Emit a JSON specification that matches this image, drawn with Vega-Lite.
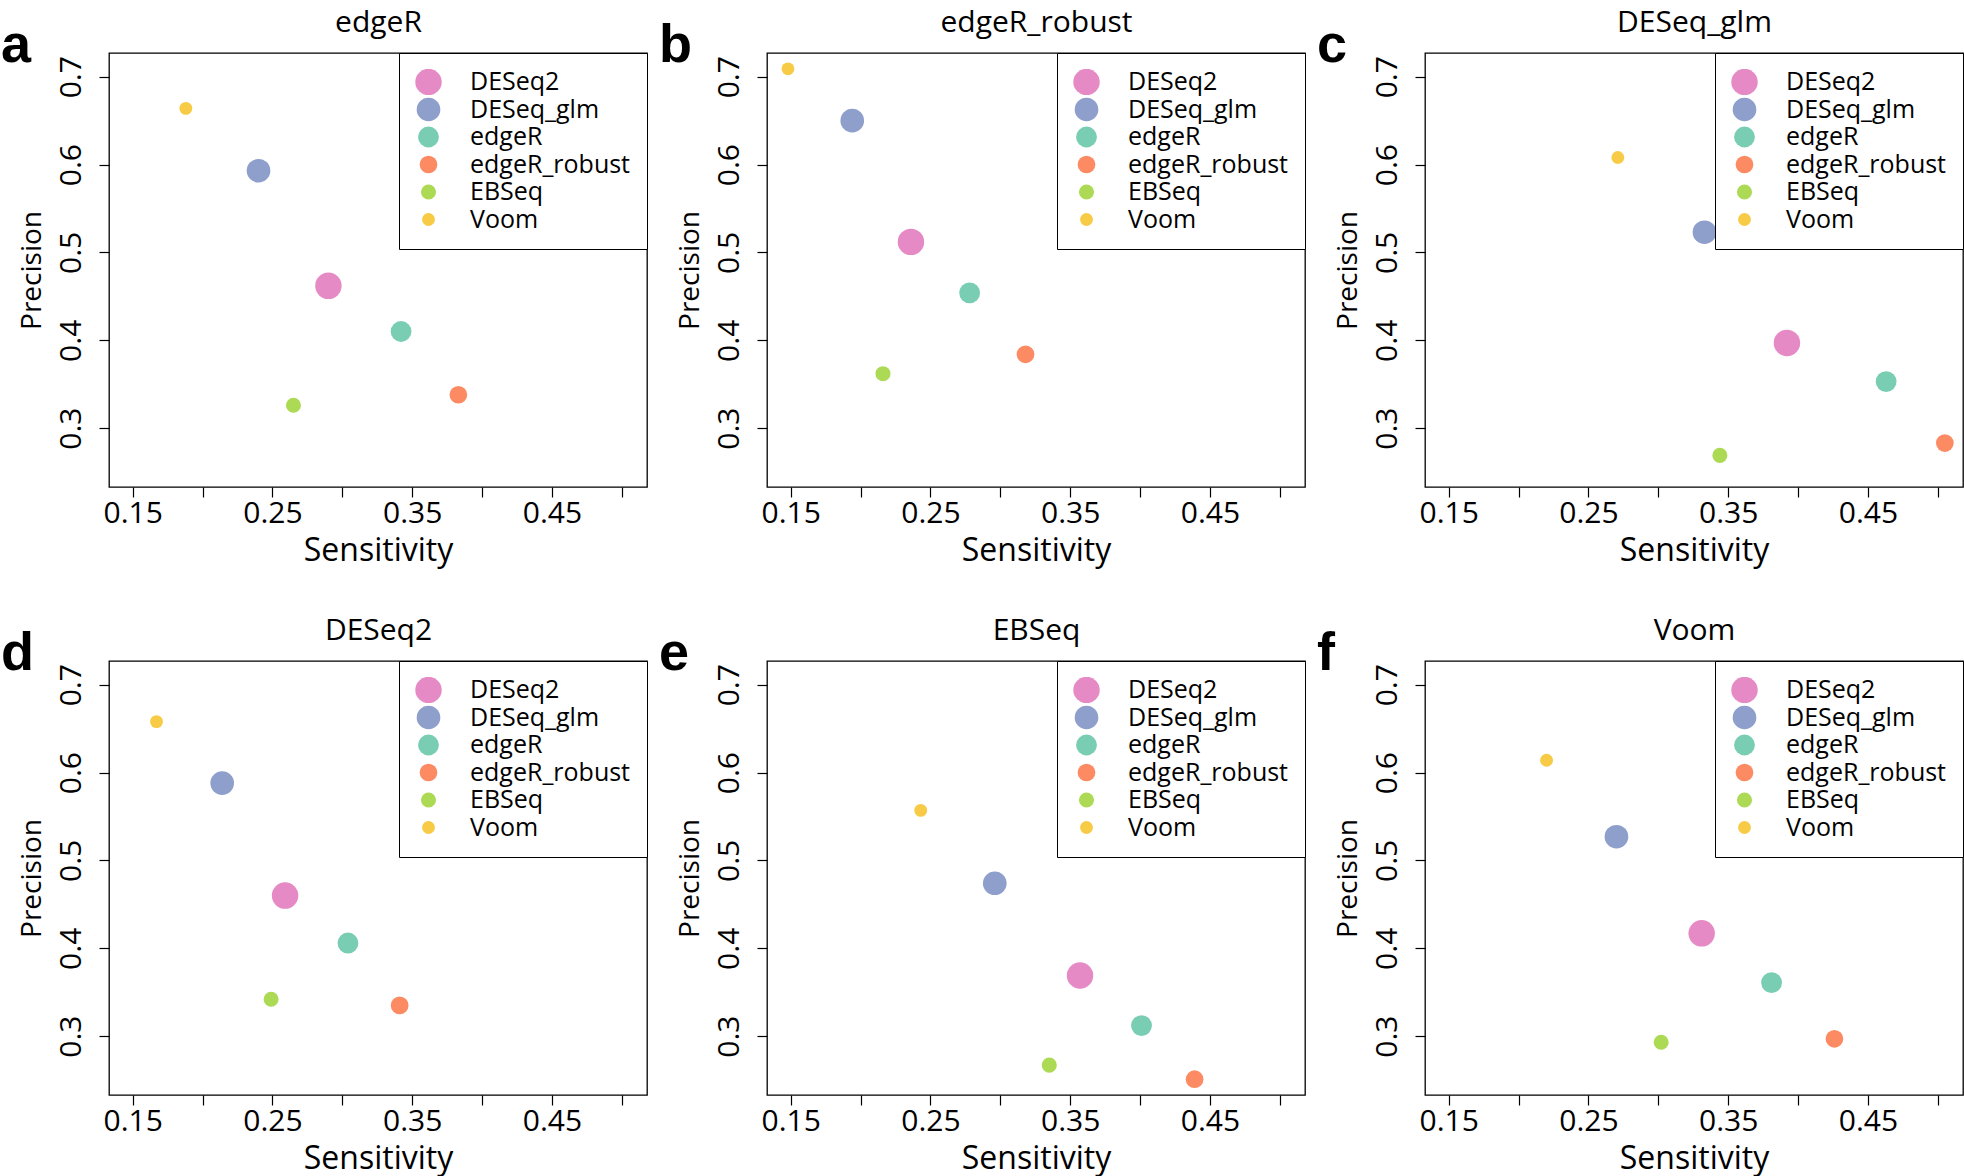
{
  "$schema": "https://vega.github.io/schema/vega-lite/v6.json",
  "background": "white",
  "padding": {"left": 0, "top": 6, "right": 0, "bottom": 2},
  "config": {
    "font": "Open Sans",
    "view": {"stroke": "black", "strokeWidth": 1.3},
    "axis": {"grid": false, "domain": false, "tickColor": "black", "tickSize": 10, "tickWidth": 1.2, "labelColor": "black", "titleColor": "black", "labelFont": "Open Sans", "titleFont": "Open Sans", "labelFontSize": 30, "titleFontSize": 30, "titleFontWeight": "normal", "labelFlush": false, "labelOverlap": false},
    "axisBottom": {"labelPadding": 1, "titlePadding": 7, "titleFontSize": 32},
    "axisLeft": {"labelPadding": 13, "titlePadding": 10, "titleFontSize": 28},
    "axisTop": {"domain": false, "ticks": false, "labels": false, "titlePadding": 16, "titleFontSize": 30},
    "legend": {"orient": "top-right", "offset": 0, "padding": 16, "strokeColor": "black", "fillColor": "white", "labelFontSize": 25, "labelFont": "Open Sans", "labelColor": "black", "labelOffset": 28, "labelLimit": 400, "symbolType": "circle", "symbolStrokeWidth": 0, "rowPadding": 1.5, "clipHeight": 26},
    "title": {"anchor": "start", "frame": "group", "font": "Liberation Sans", "fontSize": 54, "fontWeight": "bold", "color": "black", "dx": -108, "dy": 70, "baseline": "alphabetic", "offset": 0, "align": "left"}
  },
  "datasets": {
    "a": [
      {"method": "DESeq2", "sensitivity": 0.290, "precision": 0.462},
      {"method": "DESeq_glm", "sensitivity": 0.240, "precision": 0.593},
      {"method": "edgeR", "sensitivity": 0.342, "precision": 0.410},
      {"method": "edgeR_robust", "sensitivity": 0.383, "precision": 0.338},
      {"method": "EBSeq", "sensitivity": 0.265, "precision": 0.326},
      {"method": "Voom", "sensitivity": 0.188, "precision": 0.664}
    ],
    "b": [
      {"method": "DESeq2", "sensitivity": 0.236, "precision": 0.512},
      {"method": "DESeq_glm", "sensitivity": 0.194, "precision": 0.650},
      {"method": "edgeR", "sensitivity": 0.278, "precision": 0.454},
      {"method": "edgeR_robust", "sensitivity": 0.318, "precision": 0.384},
      {"method": "EBSeq", "sensitivity": 0.216, "precision": 0.362},
      {"method": "Voom", "sensitivity": 0.148, "precision": 0.709}
    ],
    "c": [
      {"method": "DESeq2", "sensitivity": 0.392, "precision": 0.397},
      {"method": "DESeq_glm", "sensitivity": 0.333, "precision": 0.523},
      {"method": "edgeR", "sensitivity": 0.463, "precision": 0.353},
      {"method": "edgeR_robust", "sensitivity": 0.505, "precision": 0.283},
      {"method": "EBSeq", "sensitivity": 0.344, "precision": 0.269},
      {"method": "Voom", "sensitivity": 0.271, "precision": 0.608}
    ],
    "d": [
      {"method": "DESeq2", "sensitivity": 0.259, "precision": 0.460},
      {"method": "DESeq_glm", "sensitivity": 0.214, "precision": 0.588},
      {"method": "edgeR", "sensitivity": 0.304, "precision": 0.406},
      {"method": "edgeR_robust", "sensitivity": 0.341, "precision": 0.335},
      {"method": "EBSeq", "sensitivity": 0.249, "precision": 0.342},
      {"method": "Voom", "sensitivity": 0.167, "precision": 0.658}
    ],
    "e": [
      {"method": "DESeq2", "sensitivity": 0.357, "precision": 0.369},
      {"method": "DESeq_glm", "sensitivity": 0.296, "precision": 0.474},
      {"method": "edgeR", "sensitivity": 0.401, "precision": 0.312},
      {"method": "edgeR_robust", "sensitivity": 0.439, "precision": 0.251},
      {"method": "EBSeq", "sensitivity": 0.335, "precision": 0.267},
      {"method": "Voom", "sensitivity": 0.243, "precision": 0.557}
    ],
    "f": [
      {"method": "DESeq2", "sensitivity": 0.331, "precision": 0.417},
      {"method": "DESeq_glm", "sensitivity": 0.270, "precision": 0.527},
      {"method": "edgeR", "sensitivity": 0.381, "precision": 0.361},
      {"method": "edgeR_robust", "sensitivity": 0.426, "precision": 0.297},
      {"method": "EBSeq", "sensitivity": 0.302, "precision": 0.293},
      {"method": "Voom", "sensitivity": 0.220, "precision": 0.614}
    ]
  },
  "columns": 3,
  "bounds": "flush",
  "spacing": {"row": 174, "column": 120},
  "resolve": {"legend": {"color": "independent", "size": "independent"}},
  "concat": [
    {
      "title": {"text": "a"},
      "data": {"name": "a"},
      "width": 538, "height": 434,
      "resolve": {"axis": {"x": "independent"}},
      "layer": [
        {"mark": {"type": "circle", "opacity": 1},
         "encoding": {
           "x": {"field": "sensitivity", "type": "quantitative", "scale": {"domain": [0.133, 0.518], "nice": false, "zero": false}, "axis": {"title": "Sensitivity", "values": [0.15, 0.2, 0.25, 0.3, 0.35, 0.4, 0.45, 0.5], "labelExpr": "round(datum.value * 100) % 10 == 5 ? format(datum.value, '.2f') : ''"}},
           "y": {"field": "precision", "type": "quantitative", "scale": {"domain": [0.233, 0.727], "nice": false, "zero": false}, "axis": {"title": "Precision", "values": [0.3, 0.4, 0.5, 0.6, 0.7], "format": ".1f", "labelAngle": -90}},
           "color": {"field": "method", "type": "ordinal", "scale": {"domain": ["DESeq2", "DESeq_glm", "edgeR", "edgeR_robust", "EBSeq", "Voom"], "range": ["#E68AC6", "#8E9FCC", "#78CDB3", "#FC8B63", "#ADDA55", "#F7CB45"]}, "legend": {"title": null}},
           "size": {"field": "method", "type": "ordinal", "scale": {"type": "ordinal", "domain": ["DESeq2", "DESeq_glm", "edgeR", "edgeR_robust", "EBSeq", "Voom"], "range": [700, 560, 434, 314, 227, 165]}, "legend": {"title": null}}
         }},
        {"mark": {"type": "circle", "opacity": 0},
         "encoding": {"x": {"field": "sensitivity", "type": "quantitative", "axis": {"orient": "top", "title": "edgeR"}}}}
      ]
    },
    {
      "title": {"text": "b"},
      "data": {"name": "b"},
      "width": 538, "height": 434,
      "resolve": {"axis": {"x": "independent"}},
      "layer": [
        {"mark": {"type": "circle", "opacity": 1},
         "encoding": {
           "x": {"field": "sensitivity", "type": "quantitative", "scale": {"domain": [0.133, 0.518], "nice": false, "zero": false}, "axis": {"title": "Sensitivity", "values": [0.15, 0.2, 0.25, 0.3, 0.35, 0.4, 0.45, 0.5], "labelExpr": "round(datum.value * 100) % 10 == 5 ? format(datum.value, '.2f') : ''"}},
           "y": {"field": "precision", "type": "quantitative", "scale": {"domain": [0.233, 0.727], "nice": false, "zero": false}, "axis": {"title": "Precision", "values": [0.3, 0.4, 0.5, 0.6, 0.7], "format": ".1f", "labelAngle": -90}},
           "color": {"field": "method", "type": "ordinal", "scale": {"domain": ["DESeq2", "DESeq_glm", "edgeR", "edgeR_robust", "EBSeq", "Voom"], "range": ["#E68AC6", "#8E9FCC", "#78CDB3", "#FC8B63", "#ADDA55", "#F7CB45"]}, "legend": {"title": null}},
           "size": {"field": "method", "type": "ordinal", "scale": {"type": "ordinal", "domain": ["DESeq2", "DESeq_glm", "edgeR", "edgeR_robust", "EBSeq", "Voom"], "range": [700, 560, 434, 314, 227, 165]}, "legend": {"title": null}}
         }},
        {"mark": {"type": "circle", "opacity": 0},
         "encoding": {"x": {"field": "sensitivity", "type": "quantitative", "axis": {"orient": "top", "title": "edgeR_robust"}}}}
      ]
    },
    {
      "title": {"text": "c"},
      "data": {"name": "c"},
      "width": 538, "height": 434,
      "resolve": {"axis": {"x": "independent"}},
      "layer": [
        {"mark": {"type": "circle", "opacity": 1},
         "encoding": {
           "x": {"field": "sensitivity", "type": "quantitative", "scale": {"domain": [0.133, 0.518], "nice": false, "zero": false}, "axis": {"title": "Sensitivity", "values": [0.15, 0.2, 0.25, 0.3, 0.35, 0.4, 0.45, 0.5], "labelExpr": "round(datum.value * 100) % 10 == 5 ? format(datum.value, '.2f') : ''"}},
           "y": {"field": "precision", "type": "quantitative", "scale": {"domain": [0.233, 0.727], "nice": false, "zero": false}, "axis": {"title": "Precision", "values": [0.3, 0.4, 0.5, 0.6, 0.7], "format": ".1f", "labelAngle": -90}},
           "color": {"field": "method", "type": "ordinal", "scale": {"domain": ["DESeq2", "DESeq_glm", "edgeR", "edgeR_robust", "EBSeq", "Voom"], "range": ["#E68AC6", "#8E9FCC", "#78CDB3", "#FC8B63", "#ADDA55", "#F7CB45"]}, "legend": {"title": null}},
           "size": {"field": "method", "type": "ordinal", "scale": {"type": "ordinal", "domain": ["DESeq2", "DESeq_glm", "edgeR", "edgeR_robust", "EBSeq", "Voom"], "range": [700, 560, 434, 314, 227, 165]}, "legend": {"title": null}}
         }},
        {"mark": {"type": "circle", "opacity": 0},
         "encoding": {"x": {"field": "sensitivity", "type": "quantitative", "axis": {"orient": "top", "title": "DESeq_glm"}}}}
      ]
    },
    {
      "title": {"text": "d"},
      "data": {"name": "d"},
      "width": 538, "height": 434,
      "resolve": {"axis": {"x": "independent"}},
      "layer": [
        {"mark": {"type": "circle", "opacity": 1},
         "encoding": {
           "x": {"field": "sensitivity", "type": "quantitative", "scale": {"domain": [0.133, 0.518], "nice": false, "zero": false}, "axis": {"title": "Sensitivity", "values": [0.15, 0.2, 0.25, 0.3, 0.35, 0.4, 0.45, 0.5], "labelExpr": "round(datum.value * 100) % 10 == 5 ? format(datum.value, '.2f') : ''"}},
           "y": {"field": "precision", "type": "quantitative", "scale": {"domain": [0.233, 0.727], "nice": false, "zero": false}, "axis": {"title": "Precision", "values": [0.3, 0.4, 0.5, 0.6, 0.7], "format": ".1f", "labelAngle": -90}},
           "color": {"field": "method", "type": "ordinal", "scale": {"domain": ["DESeq2", "DESeq_glm", "edgeR", "edgeR_robust", "EBSeq", "Voom"], "range": ["#E68AC6", "#8E9FCC", "#78CDB3", "#FC8B63", "#ADDA55", "#F7CB45"]}, "legend": {"title": null}},
           "size": {"field": "method", "type": "ordinal", "scale": {"type": "ordinal", "domain": ["DESeq2", "DESeq_glm", "edgeR", "edgeR_robust", "EBSeq", "Voom"], "range": [700, 560, 434, 314, 227, 165]}, "legend": {"title": null}}
         }},
        {"mark": {"type": "circle", "opacity": 0},
         "encoding": {"x": {"field": "sensitivity", "type": "quantitative", "axis": {"orient": "top", "title": "DESeq2"}}}}
      ]
    },
    {
      "title": {"text": "e"},
      "data": {"name": "e"},
      "width": 538, "height": 434,
      "resolve": {"axis": {"x": "independent"}},
      "layer": [
        {"mark": {"type": "circle", "opacity": 1},
         "encoding": {
           "x": {"field": "sensitivity", "type": "quantitative", "scale": {"domain": [0.133, 0.518], "nice": false, "zero": false}, "axis": {"title": "Sensitivity", "values": [0.15, 0.2, 0.25, 0.3, 0.35, 0.4, 0.45, 0.5], "labelExpr": "round(datum.value * 100) % 10 == 5 ? format(datum.value, '.2f') : ''"}},
           "y": {"field": "precision", "type": "quantitative", "scale": {"domain": [0.233, 0.727], "nice": false, "zero": false}, "axis": {"title": "Precision", "values": [0.3, 0.4, 0.5, 0.6, 0.7], "format": ".1f", "labelAngle": -90}},
           "color": {"field": "method", "type": "ordinal", "scale": {"domain": ["DESeq2", "DESeq_glm", "edgeR", "edgeR_robust", "EBSeq", "Voom"], "range": ["#E68AC6", "#8E9FCC", "#78CDB3", "#FC8B63", "#ADDA55", "#F7CB45"]}, "legend": {"title": null}},
           "size": {"field": "method", "type": "ordinal", "scale": {"type": "ordinal", "domain": ["DESeq2", "DESeq_glm", "edgeR", "edgeR_robust", "EBSeq", "Voom"], "range": [700, 560, 434, 314, 227, 165]}, "legend": {"title": null}}
         }},
        {"mark": {"type": "circle", "opacity": 0},
         "encoding": {"x": {"field": "sensitivity", "type": "quantitative", "axis": {"orient": "top", "title": "EBSeq"}}}}
      ]
    },
    {
      "title": {"text": "f"},
      "data": {"name": "f"},
      "width": 538, "height": 434,
      "resolve": {"axis": {"x": "independent"}},
      "layer": [
        {"mark": {"type": "circle", "opacity": 1},
         "encoding": {
           "x": {"field": "sensitivity", "type": "quantitative", "scale": {"domain": [0.133, 0.518], "nice": false, "zero": false}, "axis": {"title": "Sensitivity", "values": [0.15, 0.2, 0.25, 0.3, 0.35, 0.4, 0.45, 0.5], "labelExpr": "round(datum.value * 100) % 10 == 5 ? format(datum.value, '.2f') : ''"}},
           "y": {"field": "precision", "type": "quantitative", "scale": {"domain": [0.233, 0.727], "nice": false, "zero": false}, "axis": {"title": "Precision", "values": [0.3, 0.4, 0.5, 0.6, 0.7], "format": ".1f", "labelAngle": -90}},
           "color": {"field": "method", "type": "ordinal", "scale": {"domain": ["DESeq2", "DESeq_glm", "edgeR", "edgeR_robust", "EBSeq", "Voom"], "range": ["#E68AC6", "#8E9FCC", "#78CDB3", "#FC8B63", "#ADDA55", "#F7CB45"]}, "legend": {"title": null}},
           "size": {"field": "method", "type": "ordinal", "scale": {"type": "ordinal", "domain": ["DESeq2", "DESeq_glm", "edgeR", "edgeR_robust", "EBSeq", "Voom"], "range": [700, 560, 434, 314, 227, 165]}, "legend": {"title": null}}
         }},
        {"mark": {"type": "circle", "opacity": 0},
         "encoding": {"x": {"field": "sensitivity", "type": "quantitative", "axis": {"orient": "top", "title": "Voom"}}}}
      ]
    }
  ]
}
